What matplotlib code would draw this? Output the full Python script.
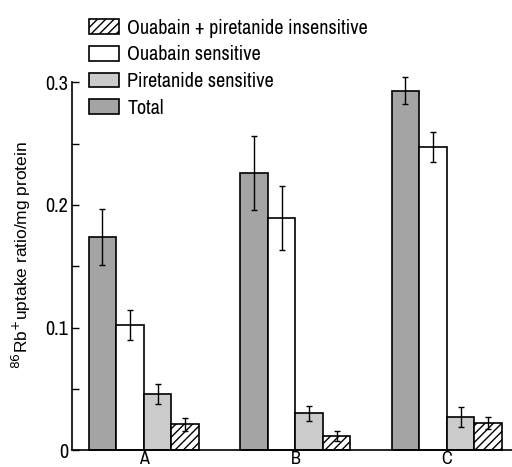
import matplotlib
matplotlib.use('Agg')
import matplotlib.pyplot as plt
import numpy as np

# ---------------------------------------------------------------------------
# Data
# ---------------------------------------------------------------------------
groups = ['A', 'B', 'C']
total      = [0.174, 0.226, 0.293]
total_err  = [0.023, 0.030, 0.011]
ouabain     = [0.102, 0.189, 0.247]
ouabain_err = [0.012, 0.026, 0.012]
piret      = [0.046, 0.030, 0.027]
piret_err  = [0.008, 0.006, 0.008]
insens     = [0.021, 0.0115, 0.022]
insens_err = [0.005, 0.004, 0.005]

legend_labels = ['Ouabain + piretanide insensitive', 'Ouabain sensitive',
                 'Piretanide sensitive', 'Total']

NARROW = ['Archivo Narrow', 'Liberation Sans', 'DejaVu Sans']
plt.rcParams['font.family'] = NARROW
plt.rcParams['hatch.linewidth'] = 1.0

fig = plt.figure(figsize=(5.12, 4.67), dpi=100)
ax = fig.add_axes([0.141, 0.036, 0.859, 0.788])

x = np.arange(len(groups))
w = 0.182
styles = [
    dict(facecolor='#a4a4a4', hatch=None),
    dict(facecolor='white', hatch=None),
    dict(facecolor='#cbcbcb', hatch=None),
    dict(facecolor='white', hatch='////'),
]
vals = [total, ouabain, piret, insens]
errs = [total_err, ouabain_err, piret_err, insens_err]
bars = []
for i, (v, e, st) in enumerate(zip(vals, errs, styles)):
    b = ax.bar(x + (i - 1.5) * w, v, w, yerr=e, edgecolor='black',
               linewidth=1.2, capsize=2.5,
               error_kw=dict(elinewidth=1.0, capthick=1.0, ecolor='black'),
               **st)
    for p in b.patches:
        p.set_clip_on(False)
    bars.append(b)
for line in ax.lines:
    line.set_clip_on(False)
for coll in ax.collections:
    coll.set_clip_on(False)

ax.set_xlim(-0.473, 2.43)
ax.set_ylim(0, 0.3)
ax.set_yticks([0, 0.1, 0.2, 0.3])
ax.set_yticklabels(['0', '0.1', '0.2', '0.3'], fontsize=14.5)
ax.set_yticks([0.05, 0.15, 0.25], minor=True)
ax.tick_params(axis='y', which='both', direction='in', length=5, width=1.0, pad=3)
ax.set_xticks(x)
ax.set_xticklabels(groups, fontsize=13)
ax.tick_params(axis='x', length=0, pad=0.5)
for s in ['top', 'right']:
    ax.spines[s].set_visible(False)
ax.spines['left'].set_linewidth(1.2)
ax.spines['bottom'].set_linewidth(1.2)

ax.set_ylabel('$^{86}$Rb$^{+}$uptake ratio/mg protein',
              family=['Liberation Sans', 'DejaVu Sans'], fontsize=12.5)
ax.yaxis.set_label_coords(-0.088, 0.53)

handles = [bars[3].patches[0], bars[1].patches[0],
           bars[2].patches[0], bars[0].patches[0]]
fig.legend(handles, legend_labels, loc='upper left',
           bbox_to_anchor=(0.158, 0.977), frameon=False, fontsize=14.5,
           handlelength=1.5, handleheight=0.75, handletextpad=0.4,
           labelspacing=0.38, borderaxespad=0)

fig.savefig('out.png', dpi=100)
